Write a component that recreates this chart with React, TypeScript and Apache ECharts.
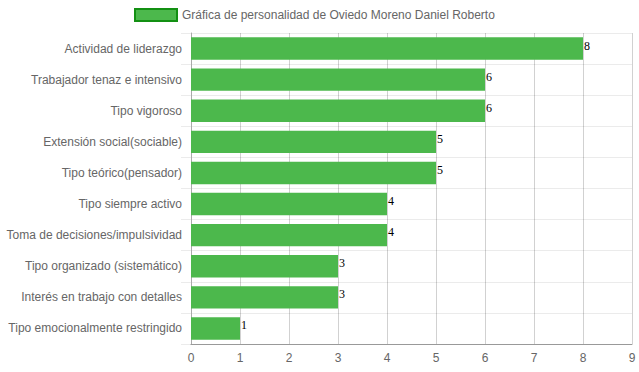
import React, { useEffect, useRef } from "react";
import * as echarts from "echarts";

const categories = [
  "Actividad de liderazgo",
  "Trabajador tenaz e intensivo",
  "Tipo vigoroso",
  "Extensión social(sociable)",
  "Tipo teórico(pensador)",
  "Tipo siempre activo",
  "Toma de decisiones/impulsividad",
  "Tipo organizado (sistemático)",
  "Interés en trabajo con detalles",
  "Tipo emocionalmente restringido",
];
const values = [8, 6, 6, 5, 5, 4, 4, 3, 3, 1];
const seriesName = "Gráfica de personalidad de Oviedo Moreno Daniel Roberto";

const FONT = "'Liberation Sans', Arial, Helvetica, sans-serif";

export default function App() {
  const ref = useRef<HTMLDivElement>(null);
  useEffect(() => {
    if (!ref.current) return;
    const chart = echarts.init(ref.current, null, { renderer: "svg" });
    chart.setOption({
      animation: false,
      legend: {
        top: 8,
        left: 134,
        padding: 0,
        itemWidth: 42,
        itemHeight: 12,
        itemGap: 10,
        icon: "rect",
        textStyle: { color: "#666", fontSize: 12, fontFamily: FONT },
        data: [
          {
            name: seriesName,
            itemStyle: { color: "#4cb84c", borderColor: "#139013", borderWidth: 2 },
          },
        ],
      },
      grid: { left: 191, right: 7, top: 33, bottom: 28, containLabel: false },
      xAxis: {
        type: "value",
        min: 0,
        max: 9,
        interval: 1,
        axisLine: { show: true, lineStyle: { color: "#999" } },
        axisTick: { show: false },
        axisLabel: { color: "#666", fontSize: 12, fontFamily: FONT, margin: 8 },
        splitLine: { show: true, lineStyle: { color: "rgba(0,0,0,0.18)" } },
      },
      yAxis: {
        type: "category",
        inverse: true,
        data: categories,
        axisLine: { show: true, lineStyle: { color: "#aaa" } },
        axisTick: { show: true, length: 10, lineStyle: { color: "rgba(0,0,0,0.08)" } },
        axisLabel: { color: "#666", fontSize: 12, fontFamily: FONT, margin: 9 },
        splitLine: { show: true, lineStyle: { color: "rgba(0,0,0,0.08)" } },
      },
      series: [
        {
          name: seriesName,
          type: "bar",
          data: values,
          barCategoryGap: "28%",
          itemStyle: { color: "#4cb84c" },
          label: {
            show: true,
            position: "right",
            distance: 1,
            offset: [0, -3],
            color: "#000",
            fontSize: 12,
            fontFamily: "'Liberation Serif', 'Times New Roman', serif",
          },
        },
      ],
    });
    return () => chart.dispose();
  }, []);
  return <div ref={ref} style={{ width: 639, height: 372, position: "absolute", left: 0, top: 0 }} />;
}
